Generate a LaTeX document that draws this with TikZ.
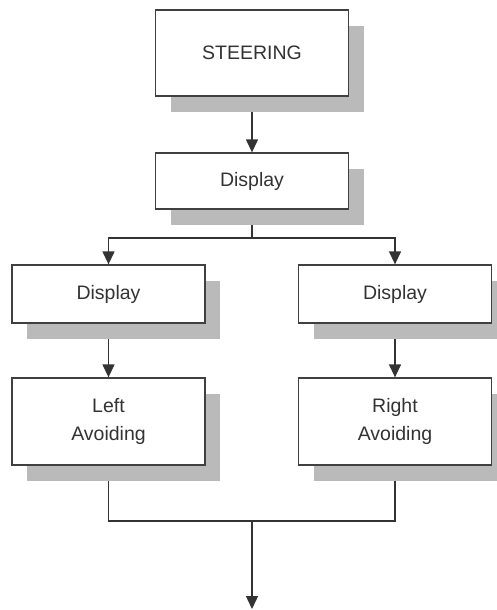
\documentclass[tikz,border=0pt]{standalone}
\usepackage{fontspec}
\setmainfont{Liberation Sans}
\usetikzlibrary{arrows.meta,shadows,calc}
\pgfdeclarelayer{background}
\pgfsetlayers{background,main}
\begin{document}
\begin{tikzpicture}[x=1pt,y=-1pt,
  box/.style={draw=black!75, line width=1.3pt, fill=white, rectangle,
    minimum width=193pt, inner sep=0pt, align=center, text=black!80,
    font=\fontsize{19.5}{28}\selectfont,
    drop shadow={shadow xshift=15pt, shadow yshift=-16pt, fill=black!27, opacity=1}},
  link/.style={draw=black!80, line width=1.3pt},
  arrow/.style={link, -{Triangle[width=12pt,length=13pt]}}]
  \useasboundingbox (0,0) rectangle (497,610);

  % blocks
  \node[box, minimum height=86pt] (steer) at (252,53) {STEERING};
  \node[box, minimum height=56pt] (disp)  at (252,181) {Display};
  \node[box, minimum height=58pt] (ldisp) at (108.5,294) {Display};
  \node[box, minimum height=58pt] (rdisp) at (395,294) {Display};
  \node[box, minimum height=87pt] (lavoid) at (108.5,421.5) {Left\\Avoiding};
  \node[box, minimum height=87pt] (ravoid) at (395,421.5) {Right\\Avoiding};

  \coordinate (fork)  at (252,238);
  \coordinate (merge) at (252,521);
  \coordinate (out)   at (252,609);

  % connectors, kept behind the blocks and their shadows
  \begin{pgfonlayer}{background}
    \draw[arrow] (steer.south) -- (disp.north);
    \draw[link] (disp.south) -- (fork);
    \draw[arrow] (fork) -| (ldisp.north);
    \draw[arrow] (fork) -| (rdisp.north);
    \draw[arrow] (ldisp.south) -- (lavoid.north);
    \draw[arrow] (rdisp.south) -- (ravoid.north);
    \draw[link] (lavoid.south) |- (merge);
    \draw[link] (ravoid.south) |- (merge);
    \draw[arrow] (merge) -- (out);
  \end{pgfonlayer}
\end{tikzpicture}
\end{document}
